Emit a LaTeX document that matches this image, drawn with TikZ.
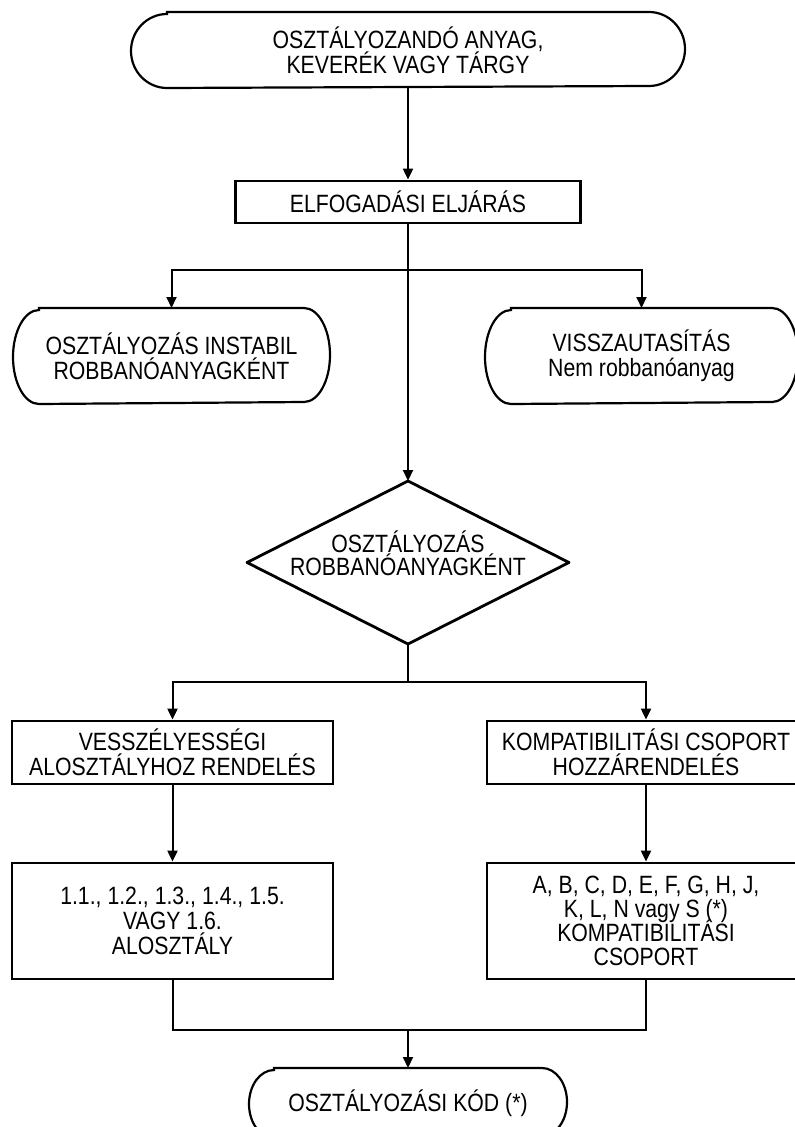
\documentclass[tikz,border=0pt]{standalone}
\usepackage{fontspec}
\setmainfont{Liberation Sans}[FakeStretch=0.85]
\usetikzlibrary{arrows.meta}
\newcommand\basefont{\fontsize{25}{25}\selectfont\lineskiplimit=-50pt\relax}
\newcommand\dfont{\fontsize{25}{23}\selectfont\lineskiplimit=-50pt\relax}
\newcommand\cfont{\fontsize{25}{24}\selectfont\lineskiplimit=-50pt\relax}
\newcommand\termoutline[3]{% node, arc x radius, half height
  \draw[termline] ([xshift=#2pt]#1.north west) -- ([xshift=-#2pt]#1.north east)
    arc[start angle=90,end angle=-90,x radius=#2pt,y radius=#3pt]
    -- ([xshift=#2pt]#1.south west)
    arc[start angle=270,end angle=90,x radius=#2pt,y radius=#3pt] -- cycle;}
\begin{document}
\begin{tikzpicture}[x=1pt,y=1pt,
  every node/.style={font=\basefont, align=center, inner sep=0pt},
  procbox/.style={rectangle, draw, line width=2.8pt},
  termbox/.style={rectangle, draw=none, outer sep=1pt},
  decbox/.style={rectangle, draw=none, outer sep=1pt},
  termline/.style={line width=2.2pt},
  decline/.style={line width=2.8pt, line join=round},
  conn/.style={line width=2pt},
  arr/.style={conn, -{Triangle[width=10pt,length=11pt]}}]
\useasboundingbox (0,0) rectangle (795,-1127);
\clip (0,0) rectangle (795,-1127);
\fill[white] (0,0) rectangle (795,-1127);

\node[termbox, minimum width=552pt, minimum height=74pt] (t1) at (408,-50)
  {OSZTÁLYOZANDÓ ANYAG,\\KEVERÉK VAGY TÁRGY};
\termoutline{t1}{36}{37}

\node[procbox, minimum width=345pt, minimum height=42pt] (elf) at (408,-202)
  {ELFOGADÁSI ELJÁRÁS};

\node[termbox, minimum width=315pt, minimum height=94pt] (l1) at (171.5,-356)
  {OSZTÁLYOZÁS INSTABIL\\ROBBANÓANYAGKÉNT};
\termoutline{l1}{26}{47}

\node[termbox, minimum width=311pt, minimum height=94pt] (r1) at (641.5,-356)
  {VISSZAUTASÍTÁS\\Nem robbanóanyag};
\termoutline{r1}{26}{47}

\node[decbox, minimum width=320pt, minimum height=161pt] (d) at (408,-562.5) {};
\draw[decline] (d.north) -- (d.east) -- (d.south) -- (d.west) -- cycle;
\node[font=\dfont] (dtext) at ([yshift=9pt]d.center)
  {OSZTÁLYOZÁS\\ROBBANÓANYAGKÉNT};

\node[procbox, minimum width=321pt, minimum height=63pt] (b1) at (172.5,-752.5)
  {VESSZÉLYESSÉGI\\ALOSZTÁLYHOZ RENDELÉS};
\node[procbox, minimum width=318pt, minimum height=63pt] (b2) at (646,-752.5)
  {KOMPATIBILITÁSI CSOPORT\\HOZZÁRENDELÉS};

\node[procbox, minimum width=321pt, minimum height=116pt] (c1) at (172.5,-921)
  {1.1., 1.2., 1.3., 1.4., 1.5.\\VAGY 1.6.\\ALOSZTÁLY};
\node[procbox, minimum width=318pt, minimum height=116pt, font=\cfont] (c2) at (646,-921)
  {A, B, C, D, E, F, G, H, J,\\K, L, N vagy S (*)\\KOMPATIBILITÁSI\\CSOPORT};

\node[termbox, minimum width=316pt, minimum height=68pt] (e) at (408,-1103)
  {OSZTÁLYOZÁSI KÓD (*)};
\termoutline{e}{25}{34}

\coordinate (s1) at (408,-270);
\coordinate (s2) at (408,-682);
\coordinate (j) at (408,-1030);

\draw[arr] (t1.south) -- (elf.north);
\draw[arr] (elf.south) -- (d.north);
\draw[arr] (s1) -| (l1.north);
\draw[arr] (s1) -| (r1.north);
\draw[conn] (d.south) -- (s2);
\draw[arr] (s2) -| (b1.north);
\draw[arr] (s2) -| (b2.north);
\draw[arr] (b1.south) -- (c1.north);
\draw[arr] (b2.south) -- (c2.north);
\draw[conn] (c1.south) |- (j) -| (c2.south);
\draw[arr] (j) -- (e.north);
\end{tikzpicture}
\end{document}
